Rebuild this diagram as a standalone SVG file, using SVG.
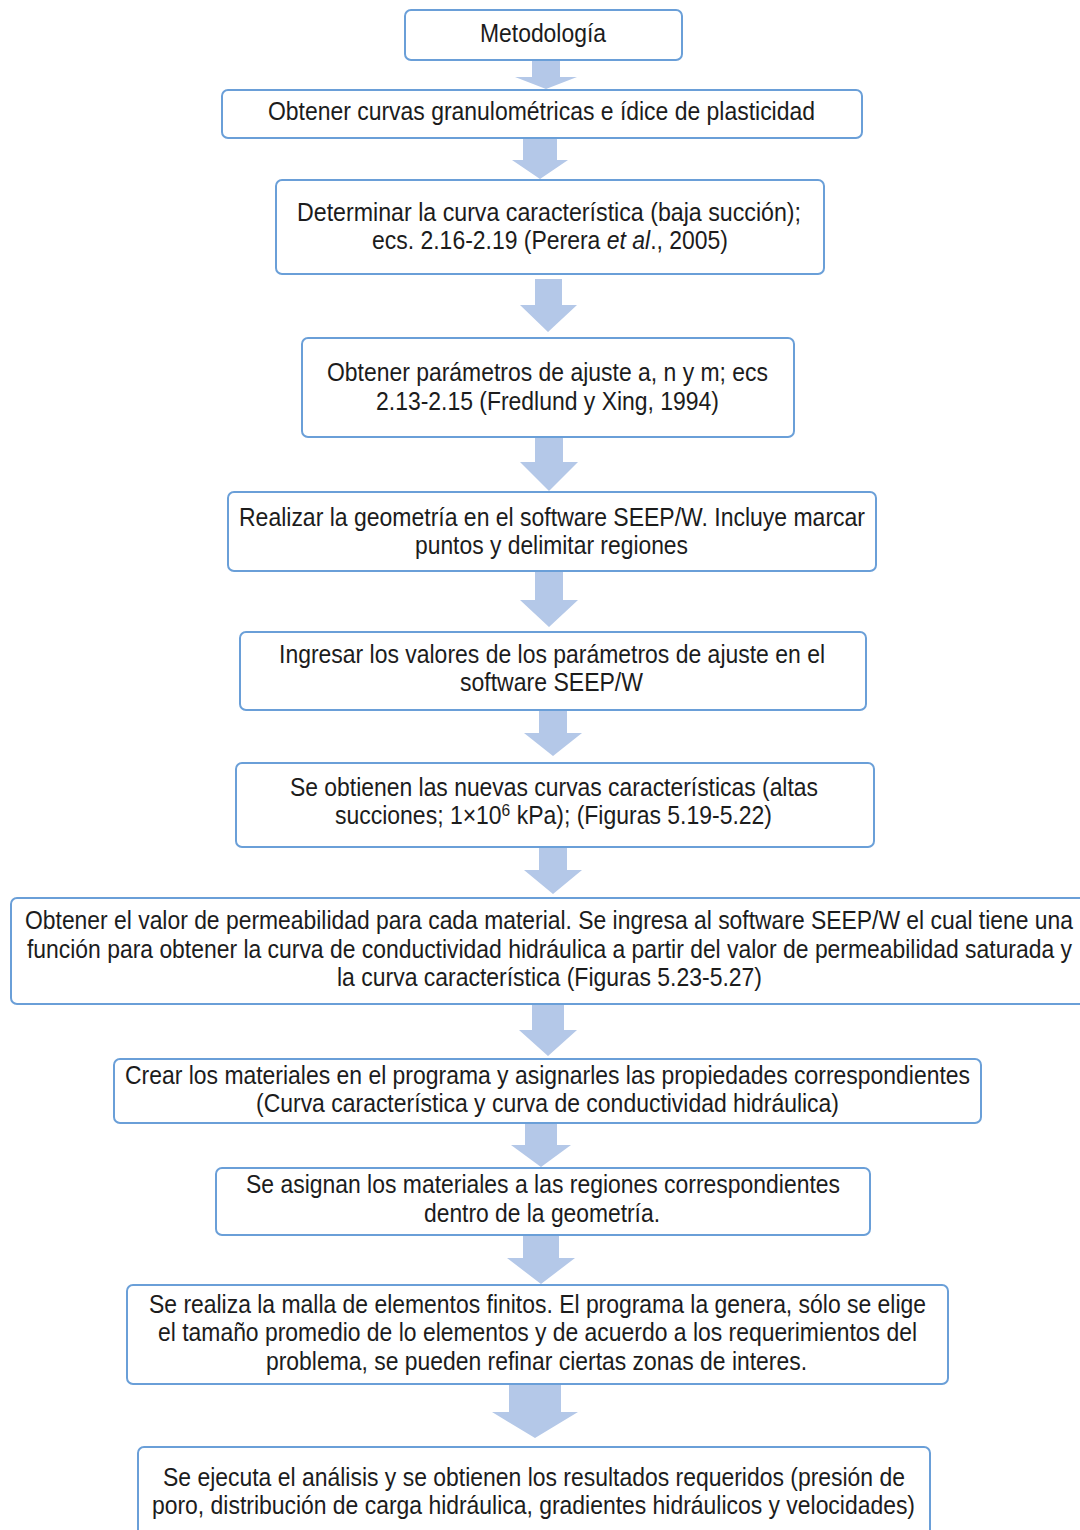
<svg xmlns="http://www.w3.org/2000/svg" width="1080" height="1530" viewBox="0 0 1080 1530">
  <style>
    .box { fill: #ffffff; stroke: #6a9fd8; stroke-width: 2; }
    .lbl { font-family: "Liberation Sans", Arial, sans-serif; font-size: 25px; fill: #1c1c1c; }
    .arrow { fill: #b4c8e8; }
  </style>
  <rect width="1080" height="1530" fill="#ffffff"/>

  <g id="nodes">
    <g id="n01">
      <rect class="box" x="405" y="10" width="277" height="50" rx="6"/>
      <text class="lbl" x="480" y="42" textLength="126" lengthAdjust="spacingAndGlyphs">Metodología</text>
    </g>
    <g id="n02">
      <rect class="box" x="222" y="90" width="640" height="48" rx="6"/>
      <text class="lbl" x="268" y="120" textLength="547" lengthAdjust="spacingAndGlyphs">Obtener curvas granulométricas e ídice de plasticidad</text>
    </g>
    <g id="n03">
      <rect class="box" x="276" y="180" width="548" height="94" rx="6"/>
      <text class="lbl" x="297" y="221" textLength="504" lengthAdjust="spacingAndGlyphs">Determinar la curva característica  (baja succión);</text>
      <text class="lbl" x="372" y="249" textLength="356" lengthAdjust="spacingAndGlyphs">ecs. 2.16-2.19 (Perera <tspan font-style="italic">et al</tspan>., 2005)</text>
    </g>
    <g id="n04">
      <rect class="box" x="302" y="338" width="492" height="99" rx="6"/>
      <text class="lbl" x="327" y="381" textLength="441" lengthAdjust="spacingAndGlyphs">Obtener parámetros de ajuste a, n y m; ecs</text>
      <text class="lbl" x="376" y="410" textLength="343" lengthAdjust="spacingAndGlyphs">2.13-2.15 (Fredlund y Xing, 1994)</text>
    </g>
    <g id="n05">
      <rect class="box" x="228" y="492" width="648" height="79" rx="6"/>
      <text class="lbl" x="239" y="526" textLength="626" lengthAdjust="spacingAndGlyphs">Realizar la geometría en el software SEEP/W. Incluye marcar</text>
      <text class="lbl" x="415" y="554" textLength="273" lengthAdjust="spacingAndGlyphs">puntos y delimitar regiones</text>
    </g>
    <g id="n06">
      <rect class="box" x="240" y="632" width="626" height="78" rx="6"/>
      <text class="lbl" x="279" y="663" textLength="546" lengthAdjust="spacingAndGlyphs">Ingresar los valores de los parámetros de ajuste en el</text>
      <text class="lbl" x="460" y="691" textLength="183" lengthAdjust="spacingAndGlyphs">software SEEP/W</text>
    </g>
    <g id="n07">
      <rect class="box" x="236" y="763" width="638" height="84" rx="6"/>
      <text class="lbl" x="290" y="796" textLength="528" lengthAdjust="spacingAndGlyphs">Se obtienen las nuevas curvas características (altas</text>
      <text class="lbl" x="335" y="824" textLength="437" lengthAdjust="spacingAndGlyphs">succiones; 1×10<tspan font-size="17" dy="-8">6</tspan><tspan dy="8"> kPa); (Figuras 5.19-5.22)</tspan></text>
    </g>
    <g id="n08">
      <rect class="box" x="11" y="898" width="1080" height="106" rx="6"/>
      <text class="lbl" x="25" y="929" textLength="1048" lengthAdjust="spacingAndGlyphs">Obtener el valor de permeabilidad para cada material. Se ingresa al software SEEP/W el cual tiene una</text>
      <text class="lbl" x="27" y="958" textLength="1045" lengthAdjust="spacingAndGlyphs">función para obtener la curva de conductividad hidráulica a partir del valor de permeabilidad saturada y</text>
      <text class="lbl" x="337" y="986" textLength="425" lengthAdjust="spacingAndGlyphs">la curva característica (Figuras 5.23-5.27)</text>
    </g>
    <g id="n09">
      <rect class="box" x="114" y="1059" width="867" height="64" rx="6"/>
      <text class="lbl" x="125" y="1084" textLength="845" lengthAdjust="spacingAndGlyphs">Crear los materiales en el programa y asignarles las propiedades correspondientes</text>
      <text class="lbl" x="256" y="1112" textLength="583" lengthAdjust="spacingAndGlyphs">(Curva característica y curva de conductividad hidráulica)</text>
    </g>
    <g id="n10">
      <rect class="box" x="216" y="1168" width="654" height="67" rx="6"/>
      <text class="lbl" x="246" y="1193" textLength="594" lengthAdjust="spacingAndGlyphs">Se asignan los materiales a las regiones correspondientes</text>
      <text class="lbl" x="424" y="1222" textLength="236" lengthAdjust="spacingAndGlyphs">dentro de la geometría.</text>
    </g>
    <g id="n11">
      <rect class="box" x="127" y="1285" width="821" height="99" rx="6"/>
      <text class="lbl" x="149" y="1313" textLength="777" lengthAdjust="spacingAndGlyphs">Se realiza la malla de elementos finitos. El programa la genera, sólo se elige</text>
      <text class="lbl" x="158" y="1341" textLength="759" lengthAdjust="spacingAndGlyphs">el tamaño promedio de lo elementos y de acuerdo a los requerimientos del</text>
      <text class="lbl" x="266" y="1370" textLength="541" lengthAdjust="spacingAndGlyphs">problema, se pueden refinar ciertas zonas de interes.</text>
    </g>
    <g id="n12">
      <rect class="box" x="138" y="1447" width="792" height="100" rx="6"/>
      <text class="lbl" x="163" y="1486" textLength="742" lengthAdjust="spacingAndGlyphs">Se ejecuta el análisis y se obtienen los resultados requeridos (presión de</text>
      <text class="lbl" x="152" y="1514" textLength="763" lengthAdjust="spacingAndGlyphs">poro, distribución de carga hidráulica, gradientes hidráulicos y velocidades)</text>
    </g>
  </g>

  <!-- block arrows between consecutive steps -->
  <g id="connectors">
    <polygon class="arrow" points="532,61 560,61 560,77 577,77 546,89 515,77 532,77"/>
    <polygon class="arrow" points="523,139 557,139 557,160 568,160 540,179 512,160 523,160"/>
    <polygon class="arrow" points="535,279 562,279 562,305 577,305 548,332 520,305 535,305"/>
    <polygon class="arrow" points="535,438 563,438 563,462 578,462 549,491 520,462 535,462"/>
    <polygon class="arrow" points="535,572 563,572 563,600 578,600 549,627 520,600 535,600"/>
    <polygon class="arrow" points="539,711 567,711 567,733 582,733 553,756 524,733 539,733"/>
    <polygon class="arrow" points="539,848 567,848 567,870 582,870 553,894 524,870 539,870"/>
    <polygon class="arrow" points="532,1005 564,1005 564,1030 577,1030 548,1056 519,1030 532,1030"/>
    <polygon class="arrow" points="525,1124 557,1124 557,1145 571,1145 541,1167 511,1145 525,1145"/>
    <polygon class="arrow" points="523,1236 559,1236 559,1258 575,1258 541,1284 507,1258 523,1258"/>
    <polygon class="arrow" points="509,1385 561,1385 561,1412 578,1412 535,1438 492,1412 509,1412"/>
  </g>
</svg>
